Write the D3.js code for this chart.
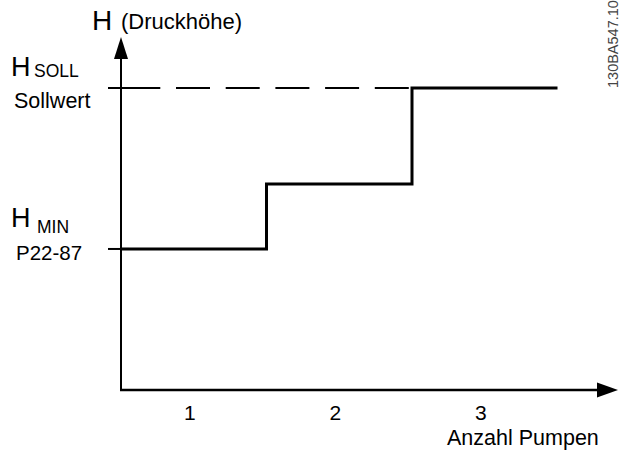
<!DOCTYPE html>
<html>
<head>
<meta charset="utf-8">
<script src="https://cdn.jsdelivr.net/npm/d3@7"></script>
<style>
  html, body { margin: 0; padding: 0; background: #fff; }
  svg { display: block; font-family: "Liberation Sans", Arial, sans-serif; }
</style>
</head>
<body>
<svg id="chart" width="622" height="454"></svg>
<script>
// ---- data ----
const pumpTicks = [1, 2, 3];                    // x tick labels (Anzahl Pumpen)
const stepBounds = [0.5, 1.5, 2.5, 3.5];        // pump-count boundaries of each step
const headLevels = [46.7, 68.2, 100];           // head H for 1, 2, 3 pumps
const setpoint = 100;                           // H_SOLL (Sollwert)
const minHead = 46.7;                           // H_MIN (P22-87)

// ---- layout ----
const svg = d3.select("#chart");
const x = d3.scaleLinear().domain([0.5, 3.5]).range([121, 557.5]);
const y = d3.scaleLinear().domain([0, 100]).range([390, 88]);
const axisX0 = 121, axisY0 = 390, yTop = 37, xRight = 618;

// y axis line + arrow
svg.append("line").attr("x1", axisX0).attr("x2", axisX0)
  .attr("y1", axisY0 + 1).attr("y2", yTop + 15)
  .attr("stroke", "#000").attr("stroke-width", 2);
svg.append("path")
  .attr("d", `M${axisX0},${yTop} L${axisX0 - 7},${yTop + 22} L${axisX0 + 7},${yTop + 22} Z`)
  .attr("fill", "#000");

// x axis line + arrow
svg.append("line").attr("x1", axisX0 - 1).attr("x2", xRight - 15)
  .attr("y1", axisY0).attr("y2", axisY0)
  .attr("stroke", "#000").attr("stroke-width", 2.5);
svg.append("path")
  .attr("d", `M${xRight},${axisY0} L${xRight - 21},${axisY0 - 7.5} L${xRight - 21},${axisY0 + 7.5} Z`)
  .attr("fill", "#000");

// ticks on y axis
[setpoint, minHead].forEach(v => {
  svg.append("line").attr("x1", 108).attr("x2", axisX0 + 8)
    .attr("y1", y(v)).attr("y2", y(v))
    .attr("stroke", "#000").attr("stroke-width", 2);
});

// dashed setpoint line
svg.append("line")
  .attr("x1", x(stepBounds[0])).attr("x2", x(stepBounds[2]))
  .attr("y1", y(setpoint)).attr("y2", y(setpoint))
  .attr("stroke", "#000").attr("stroke-width", 2)
  .attr("stroke-dasharray", "34,15.7")
  .attr("stroke-dashoffset", 44.4);

// step line
const pts = [];
headLevels.forEach((h, i) => {
  pts.push([stepBounds[i], h]);
  pts.push([stepBounds[i + 1], h]);
});
const line = d3.line().x(d => x(d[0])).y(d => y(d[1]));
svg.append("path").attr("d", line(pts))
  .attr("fill", "none").attr("stroke", "#000").attr("stroke-width", 3)
  .attr("stroke-linejoin", "miter").attr("stroke-linecap", "butt");

// x tick labels
svg.selectAll("text.tick").data(pumpTicks).enter().append("text")
  .attr("class", "tick")
  .attr("x", d => x(d) - 4).attr("y", 420)
  .attr("text-anchor", "middle").attr("font-size", 21).attr("fill", "#000")
  .text(d => d);

svg.append("text").attr("x", 447).attr("y", 445)
  .attr("font-size", 21.5).attr("fill", "#000").text("Anzahl Pumpen");

// y axis title
svg.append("text").attr("x", 92).attr("y", 30).attr("font-size", 28).attr("fill", "#000").text("H");
svg.append("text").attr("x", 121).attr("y", 29).attr("font-size", 22).attr("fill", "#000").text("(Druckhöhe)");

// H_SOLL
svg.append("text").attr("x", 11).attr("y", 76).attr("font-size", 27).attr("fill", "#000").text("H");
svg.append("text").attr("x", 34).attr("y", 77).attr("font-size", 17.5).attr("fill", "#000").text("SOLL");
svg.append("text").attr("x", 14).attr("y", 108).attr("font-size", 21.5).attr("fill", "#000").text("Sollwert");

// H_MIN
svg.append("text").attr("x", 11).attr("y", 227).attr("font-size", 27).attr("fill", "#000").text("H");
svg.append("text").attr("x", 37).attr("y", 233).attr("font-size", 17.5).attr("fill", "#000").text("MIN");
svg.append("text").attr("x", 16).attr("y", 260).attr("font-size", 20.5).attr("fill", "#000").text("P22-87");

// drawing id
svg.append("text").attr("transform", "translate(618,88) rotate(-90)")
  .attr("font-size", 14.5).attr("fill", "#444").text("130BA547.10");
</script>
</body>
</html>
